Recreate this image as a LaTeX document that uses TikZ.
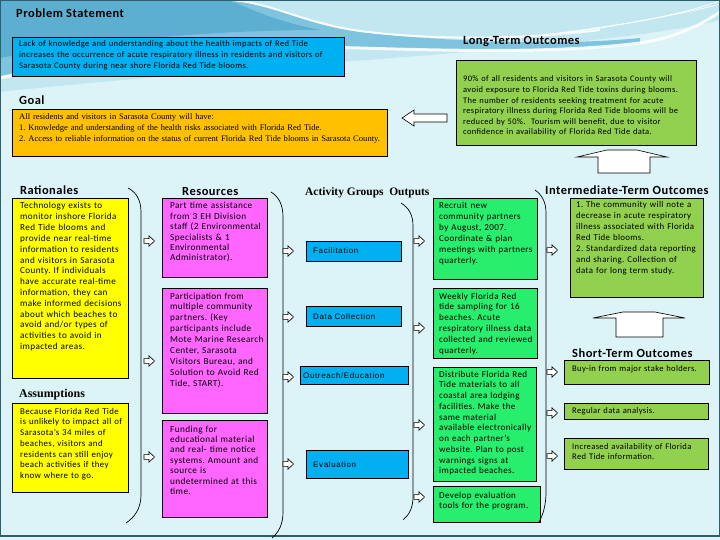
\documentclass[tikz,border=0pt]{standalone}
\usepackage{fontspec}
\setmainfont[LetterSpace=4]{Carlito}
\newfontfamily\serifx{Liberation Serif}
\newfontfamily\sansx[LetterSpace=8]{Liberation Sans}
\definecolor{bg}{HTML}{DCF4F8}
\definecolor{topr}{HTML}{C2E7F1}
\definecolor{topa}{HTML}{5CAFD1}
\definecolor{topb}{HTML}{7EC4DE}
\definecolor{skyb}{HTML}{00B0F0}
\definecolor{gold}{HTML}{FFC000}
\definecolor{olive}{HTML}{92D050}
\definecolor{yel}{HTML}{FFFF00}
\definecolor{pink}{HTML}{FF66FF}
\definecolor{spring}{HTML}{28EE6E}
\definecolor{frame}{HTML}{2E5E6E}
\tikzset{
  box/.style={draw=black, line width=0.6pt, anchor=north west, inner sep=0pt, outer sep=0pt},
  txt/.style={anchor=base west, inner sep=0pt, text width=400bp, align=left, font=\fontsize{8.5}{11}\selectfont},
  ttl/.style={anchor=base west, inner sep=0pt, font=\bfseries\fontsize{12.5}{14}\selectfont},
  brk/.style={draw=black, line width=0.7pt},
  hollow/.style={draw=black, fill=white, line width=0.6pt, line join=miter},
  pics/harr/.style={code={\draw[hollow] (0,-2.4) -- (5,-2.4) -- (5,-5.2) -- (10.5,0) -- (5,5.2) -- (5,2.4) -- (0,2.4) -- cycle;}}
}
\begin{document}
\frenchspacing
\begin{tikzpicture}[x=1bp,y=-1bp]
\useasboundingbox (0,0) rectangle (720,540);
% background
\fill[bg] (0,0) rectangle (720,540);
\fill[topr] (0,0) -- (720,0) -- (720,20) .. controls (600,50) and (300,60) .. (0,92) -- cycle;
\fill[topb] (0,0) -- (235,0) .. controls (275,4) and (300,24) .. (360,32) .. controls (450,42) and (560,46) .. (640,38) -- (640,44) .. controls (560,52) and (450,50) .. (360,47) .. controls (250,43) and (120,50) .. (0,76) -- cycle;
\fill[topa] (0,0) -- (228,0) .. controls (250,8) and (270,20) .. (320,30) .. controls (220,30) and (100,40) .. (0,58) -- cycle;
\draw[white, line width=3pt, opacity=0.85] (0,78) .. controls (120,53) and (250,45) .. (360,48) .. controls (460,51) and (560,53) .. (640,43) .. controls (680,37) and (705,22) .. (720,12);
\draw[white, line width=2pt, opacity=0.9] (232,0) .. controls (275,4) and (300,22) .. (360,31) .. controls (430,40) and (520,40) .. (600,30);
\draw[white, line width=0.8pt, opacity=0.9] (480,42) .. controls (600,30) and (680,15) .. (720,4);
\draw[white, line width=0.8pt, opacity=0.9] (520,38) .. controls (620,28) and (690,12) .. (720,1);
\draw[frame, line width=1.5pt] (0.75,0.75) rectangle (719.25,536);

% Problem statement
\node[ttl] (tprob) at (16,17.5) {Problem Statement};
\node[box, fill=skyb, minimum width=332bp, minimum height=39bp] (prob) at (12,37) {};
\node[txt, font=\fontsize{8.6}{11}\selectfont] (xprob) at (19,47) {Lack of knowledge and understanding about the health impacts of Red Tide\\ increases the occurrence of acute respiratory illness in residents and visitors of\\ Sarasota County during near shore Florida Red Tide blooms.};

% Goal
\node[ttl] (tgoal) at (19,104.5) {Goal};
\node[box, fill=gold, minimum width=375bp, minimum height=47bp] (goal) at (12,109) {};
\node[txt, font=\serifx\fontsize{8.6}{10.8}\selectfont] (xgoal) at (19,119.5) {All residents and visitors in Sarasota County will have:\\ 1. Knowledge and understanding of the health risks associated with Florida Red Tide.\\ 2. Access to reliable information on the status of current Florida Red Tide blooms in Sarasota County.};

% Long-term
\node[ttl] (tlt) at (463,45) {Long-Term Outcomes};
\node[box, fill=olive, minimum width=240bp, minimum height=85bp] (lt) at (456,60) {};
\node[txt, font=\fontsize{8.5}{10.6}\selectfont] (xlt) at (463,82) {90\% of all residents and visitors in Sarasota County will\\ avoid exposure to Florida Red Tide toxins during blooms.\\ The number of residents seeking treatment for acute\\ respiratory illness during Florida Red Tide blooms will be\\ reduced by 50\%.\ \ Tourism will benefit, due to visitor\\ confidence in availability of Florida Red Tide data.};
\draw[hollow] (402,118) -- (414,110) -- (414,114) -- (447,114) -- (447,122) -- (414,122) -- (414,126) -- cycle;

% up arrows
\draw[hollow] (577,157) -- (607,150) -- (637,150) -- (667,157) -- (650,157) -- (650,173) -- (598,173) -- (598,157) -- cycle;
\draw[hollow] (593,318) -- (623,312) -- (655,312) -- (685,318) -- (663,318) -- (663,337) -- (616,337) -- (616,318) -- cycle;

% Rationales / Assumptions
\node[ttl] (trat) at (20,195) {Rationales};
\node[box, fill=yel, minimum width=116bp, minimum height=180bp] (rat) at (12,198) {};
\node[txt, font=\fontsize{9.2}{10.85}\selectfont] (xrat) at (20,209) {Technology exists to\\ monitor inshore Florida\\ Red Tide blooms and\\ provide near real-time\\ information to residents\\ and visitors in Sarasota\\ County. If individuals\\ have accurate real-time\\ information, they can\\ make informed decisions\\ about which beaches to\\ avoid and/or types of\\ activities to avoid in\\ impacted areas.};
\node[ttl, font=\serifx\bfseries\fontsize{12}{14}\selectfont] (tass) at (19,397) {Assumptions};
\node[box, fill=yel, minimum width=116bp, minimum height=89bp] (ass) at (12,403) {};
\node[txt, font=\fontsize{8.9}{10.8}\selectfont] (xass) at (20,414) {Because Florida Red Tide\\ is unlikely to impact all of\\ Sarasota's 34 miles of\\ beaches, visitors and\\ residents can still enjoy\\ beach activities if they\\ know where to go.};

% bracket 1 + arrows
\draw[brk] (128,188) .. controls (136,192) and (141,200) .. (141,212) -- (141,495) .. controls (141,508) and (135,517) .. (126,523);
\pic at (144,241) {harr};
\pic at (144,361) {harr};
\pic at (144,457) {harr};

% Resources
\node[ttl] (tres) at (182,196) {Resources};
\node[box, fill=pink, minimum width=105bp, minimum height=79bp] (res1) at (162,198) {};
\node[txt, font=\fontsize{9.3}{10.4}\selectfont] (xres1) at (170,209) {Part time assistance\\ from 3 EH Division\\ staff (2 Environmental\\ Specialists \& 1\\ Environmental\\ Administrator).};
\node[box, fill=pink, minimum width=105bp, minimum height=125bp] (res2) at (162,288) {};
\node[txt, font=\fontsize{9.3}{11}\selectfont] (xres2) at (170,299) {Participation from\\ multiple community\\ partners. (Key\\ participants include\\ Mote Marine Research\\ Center, Sarasota\\ Visitors Bureau, and\\ Solution to Avoid Red\\ Tide, START).};
\node[box, fill=pink, minimum width=105bp, minimum height=97bp] (res3) at (162,420) {};
\node[txt, font=\fontsize{9.3}{10.5}\selectfont] (xres3) at (170,432) {Funding for\\ educational material\\ and real- time notice\\ systems. Amount and\\ source is\\ undetermined at this\\ time.};

% bracket 2 + arrows
\draw[brk] (271,192) .. controls (279,197) and (283,205) .. (283,217) -- (283,512) .. controls (283,524) and (279,532) .. (272,538);
\pic at (283,251) {harr};
\pic at (283,317) {harr};
\pic at (283,377) {harr};
\pic at (283,464) {harr};

% Activity groups
\node[ttl, font=\serifx\bfseries\fontsize{11.5}{14}\selectfont] (tact) at (305,196) {Activity Groups\ \ Outputs};
\node[box, fill=skyb, minimum width=95bp, minimum height=20bp] (act1) at (306,241) {};
\node[txt, font=\sansx\fontsize{8}{9}\selectfont] (xact1) at (313,254) {Facilitation};
\node[box, fill=skyb, minimum width=95bp, minimum height=20bp] (act2) at (306,306) {};
\node[txt, font=\sansx\fontsize{8}{9}\selectfont] (xact2) at (313,319) {Data Collection};
\node[box, fill=skyb, minimum width=108bp, minimum height=18bp] (act3) at (300,366) {};
\node[txt, font=\sansx\fontsize{8}{9}\selectfont] (xact3) at (303,378) {Outreach/Education};
\node[box, fill=skyb, minimum width=102bp, minimum height=28bp] (act4) at (306,450) {};
\node[txt, font=\sansx\fontsize{8}{9}\selectfont] (xact4) at (313,467) {Evaluation};

% bracket 3 + arrows
\draw[brk] (401,203) .. controls (409,208) and (413,215) .. (413,226) -- (413,497) .. controls (413,508) and (409,515) .. (403,520);
\pic at (414,241) {harr};
\pic at (414,328) {harr};
\pic at (414,425) {harr};
\pic at (414,497) {harr};

% Outputs
\node[box, fill=spring, minimum width=104bp, minimum height=81bp] (out1) at (433,198) {};
\node[txt, font=\fontsize{9.1}{11}\selectfont] (xout1) at (439,209) {Recruit new\\ community partners\\ by August, 2007.\\ Coordinate \& plan\\ meetings with partners\\ quarterly.};
\node[box, fill=spring, minimum width=104bp, minimum height=70bp] (out2) at (433,288) {};
\node[txt, font=\fontsize{9.1}{11}\selectfont] (xout2) at (439,299) {Weekly Florida Red\\ tide sampling for 16\\ beaches. Acute\\ respiratory illness data\\ collected and reviewed\\ quarterly.};
\node[box, fill=spring, minimum width=103bp, minimum height=114bp] (out3) at (433,367) {};
\node[txt, font=\fontsize{9.1}{10.8}\selectfont] (xout3) at (439,377) {Distribute Florida Red\\ Tide materials to all\\ coastal area lodging\\ facilities. Make the\\ same material\\ available electronically\\ on each partner's\\ website. Plan to post\\ warnings signs at\\ impacted beaches.};
\node[box, fill=spring, minimum width=107bp, minimum height=36bp] (out4) at (433,486) {};
\node[txt, font=\fontsize{9.1}{11}\selectfont] (xout4) at (439,498) {Develop evaluation\\ tools for the program.};

% bracket 4 + arrows
\draw[brk] (535,190) .. controls (542,195) and (546,202) .. (546,213) -- (546,492) .. controls (546,505) and (543,515) .. (539,522);
\pic at (547,250) {harr};
\pic at (547,372) {harr};
\pic at (547,413) {harr};
\pic at (547,456) {harr};

% Intermediate
\node[ttl] (tint) at (545,195) {Intermediate-Term Outcomes};
\node[box, fill=olive, minimum width=133bp, minimum height=99bp] (int) at (570,198) {};
\node[txt, font=\fontsize{8.9}{11}\selectfont] (xint) at (576,208) {1. The community will note a\\ decrease in acute respiratory\\ illness associated with Florida\\ Red Tide blooms.\\ 2. Standardized data reporting\\ and sharing. Collection of\\ data for long term study.};

% Short-term
\node[ttl] (tst) at (572,357) {Short-Term Outcomes};
\node[box, fill=olive, minimum width=145bp, minimum height=24bp] (st1) at (564,360) {};
\node[txt, font=\fontsize{8.6}{11}\selectfont] (xst1) at (572,371) {Buy-in from major stake holders.};
\node[box, fill=olive, minimum width=144bp, minimum height=16bp] (st2) at (564,403) {};
\node[txt, font=\fontsize{8.6}{11}\selectfont] (xst2) at (572,413.5) {Regular data analysis.};
\node[box, fill=olive, minimum width=144bp, minimum height=31bp] (st3) at (564,438) {};
\node[txt, font=\fontsize{8.6}{11}\selectfont] (xst3) at (572,449) {Increased availability of Florida\\ Red Tide information.};
\end{tikzpicture}
\end{document}
